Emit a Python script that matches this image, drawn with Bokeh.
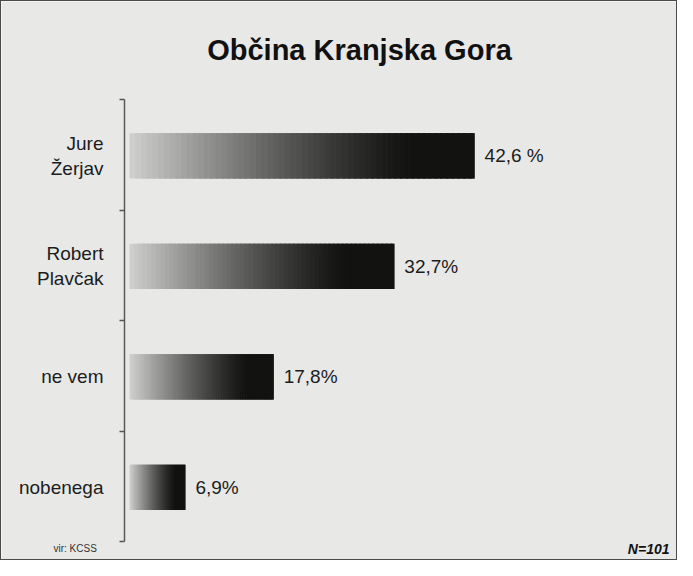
from bokeh.plotting import figure
from bokeh.models import FixedTicker, Range1d, Label
from bokeh.core.properties import value
from bokeh.embed import file_html
from bokeh.resources import INLINE

# ---- data ----
categories = ["nobenega", "ne vem", "Robert\nPlavčak", "Jure\nŽerjav"]
percents = [6.9, 17.8, 32.7, 42.6]
value_labels = ["6,9%", "17,8%", "32,7%", "42,6 %"]
title_text = "Občina Kranjska Gora"
source_text = "vir: KCSS"
sample_text = "N=101"

# ---- layout constants ----
W, H = 677, 560
AX_X = 123               # axis position (px)
AX_TOP, AX_BOT = 98, 540  # axis extent (px)
XS = 8.1                 # px per percent
ZERO_PX = 128            # where 0 % lies (px)
X0 = -ZERO_PX / XS
X1 = (W - ZERO_PX) / XS
NB = len(categories)
YS = (AX_BOT - AX_TOP) / NB
Y0 = -(H - AX_BOT) / YS
Y1 = NB + AX_TOP / YS
BAR_OFF = 0.49
BAR_H = 0.41
FONT = "Liberation Sans"
BG = "#e8e8e7"


def xd(px):
    return (px - ZERO_PX) / XS


def yd(py):
    return (AX_BOT - py) / YS


p = figure(width=W, height=H, output_backend="svg", toolbar_location=None,
           x_range=Range1d(X0, X1), y_range=Range1d(Y0, Y1),
           x_axis_location=None, min_border_left=0, min_border_right=0,
           min_border_top=0, min_border_bottom=0)
p.background_fill_color = BG
p.border_fill_color = BG
p.outline_line_color = None
p.grid.visible = False
p.styles = {"border": "1.5px solid #4a4a4a"}

centers = [i + BAR_OFF for i in range(NB)]

# ---- y axis (drawn at a fixed location inside the frame) ----
ax = p.yaxis[0]
ax.fixed_location = xd(AX_X)
ax.bounds = (0, NB)
ax.ticker = FixedTicker(ticks=centers, minor_ticks=list(range(NB + 1)))
ax.major_label_overrides = {c: lab for c, lab in zip(centers, categories)}
ax.major_tick_line_color = None
ax.major_tick_out = 0
ax.major_tick_in = 0
ax.minor_tick_out = 5
ax.minor_tick_in = 0
ax.minor_tick_line_color = "#555555"
ax.minor_tick_line_width = 1.5
ax.axis_line_color = "#5a5a5a"
ax.axis_line_width = 1.5
ax.major_label_standoff = 16
ax.major_label_text_font = FONT
ax.major_label_text_font_size = "19px"
ax.major_label_text_color = "#1c1c1c"

# ---- gradient bars (each bar split into overlapping thin slices) ----
N = 60
ys, lefts, rights, colors = [], [], [], []
for c, v in zip(centers, percents):
    for i in range(N):
        f = (i + 0.5) / N
        t = min(1.0, f / 0.82)
        g = int(round(18 + 190 * (1 - t) ** 1.25))
        ys.append(c)
        lefts.append(v * i / N)
        rights.append(v * min(N, i + 2.5) / N)
        colors.append("#%02x%02x%02x" % (g, g, max(g - 2, 0)))
p.hbar(y=ys, left=lefts, right=rights, height=BAR_H, fill_color=colors,
       line_color=None)

# ---- value labels ----
p.text(x=percents, y=centers, text=value_labels, x_offset=10,
       text_baseline="middle", text_align="left",
       text_font=value(FONT), text_font_size="19px", text_color="#1c1c1c")

# ---- title and footer ----
p.add_layout(Label(x=xd(358), y=yd(48), text=title_text, text_align="center",
                   text_baseline="middle", text_font=FONT,
                   text_font_size="29px", text_font_style="bold",
                   text_color="#111111"))
p.add_layout(Label(x=xd(52), y=yd(547), text=source_text,
                   text_align="left", text_baseline="middle", text_font=FONT,
                   text_font_size="10px", text_color="#333333"))
p.add_layout(Label(x=xd(668), y=yd(547), text=sample_text, text_align="right",
                   text_baseline="middle", text_font=FONT,
                   text_font_size="14px", text_font_style="bold italic",
                   text_color="#111111"))

open("out.html", "w").write(file_html(p, INLINE))
